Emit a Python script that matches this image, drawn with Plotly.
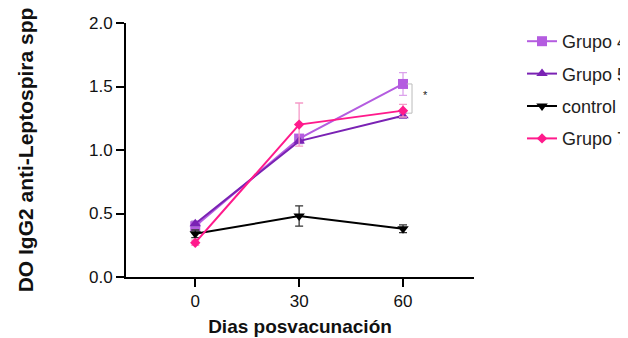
import plotly.graph_objects as go

days = [0, 30, 60]
grupo4 = [0.40, 1.09, 1.52]
grupo4_err = [0.03, 0.03, 0.09]
grupo5 = [0.42, 1.07, 1.27]
grupo5_err = [0.02, 0.02, 0.02]
control = [0.34, 0.48, 0.38]
control_err = [0.03, 0.08, 0.03]
grupo7 = [0.27, 1.20, 1.31]
grupo7_err = [0.02, 0.17, 0.05]

y_ticks = [0.0, 0.5, 1.0, 1.5, 2.0]
x_ticks = [0, 30, 60]

series = [
    ("Grupo 4", grupo4, grupo4_err, "#b45ce0", "#dca2ec", "square", 10),
    ("Grupo 5", grupo5, grupo5_err, "#7a22b4", "#a77bd0", "triangle-up", 10),
    ("control", control, control_err, "#000000", "#333333", "triangle-down", 10),
    ("Grupo 7", grupo7, grupo7_err, "#ff1a8c", "#f59ac8", "diamond", 8),
]

font = "Liberation Sans, Arial, sans-serif"
fig = go.Figure()
for name, vals, errs, col, ecol, sym, sz in series:
    fig.add_trace(go.Scatter(
        x=days, y=vals, name=name, mode="lines+markers",
        legendgroup=name,
        line=dict(color=col, width=2),
        marker=dict(symbol=sym, size=sz, color=col),
        error_y=dict(type="data", array=errs, visible=True, color=ecol,
                     thickness=1.3, width=4),
    ))

# significance bracket at day 60 between Grupo 4 and Grupo 7
bx = days[-1] + 2.6
top = grupo4[-1]
bot = grupo5[-1] + 0.02
fig.add_shape(type="line", x0=bx, x1=bx, y0=bot, y1=top,
              line=dict(color="#bbbbbb", width=1))
fig.add_shape(type="line", x0=bx - 1.5, x1=bx, y0=top, y1=top,
              line=dict(color="#bbbbbb", width=1))
fig.add_shape(type="line", x0=bx - 1.5, x1=bx, y0=bot, y1=bot,
              line=dict(color="#bbbbbb", width=1))
fig.add_annotation(x=bx + 4, y=(top + bot) / 2 + 0.03, text="*", showarrow=False,
                   font=dict(size=11, color="#222", family=font))

fig.update_layout(
    width=628, height=338,
    margin=dict(l=118, r=162, t=15, b=69, autoexpand=False),
    plot_bgcolor="white", paper_bgcolor="white",
    font=dict(family=font, color="#000"),
    legend=dict(x=1.138, y=1.0, xanchor="left", yanchor="top",
                font=dict(size=18, family=font, color="#222"),
                tracegroupgap=6, itemwidth=30, bgcolor="rgba(0,0,0,0)"),
    xaxis=dict(range=[-20, 80.5], tickvals=x_ticks, ticks="outside", ticklen=8,
               tickwidth=2, tickcolor="#000", showline=True, linecolor="#000",
               linewidth=2, showgrid=False, zeroline=False,
               tickfont=dict(size=17, family=font, color="#111"),
               tickprefix="<b>", ticksuffix="</b>",
               title=dict(text="<b>Dias posvacunación</b>", standoff=9,
                          font=dict(size=19, family=font, color="#111"))),
    yaxis=dict(range=[0, 2.0], tickvals=y_ticks, tickformat=".1f", ticks="outside",
               ticklen=8, tickwidth=2, tickcolor="#000", showline=True,
               linecolor="#000", linewidth=2, showgrid=False, zeroline=False,
               tickfont=dict(size=17, family=font, color="#111"),
               tickprefix="<b>", ticksuffix="</b>",
               title=dict(text="<b>DO IgG2 anti-Leptospira spp</b>", standoff=50,
                          font=dict(size=21, family=font, color="#111"))),
)
fig.write_html("out.html")
